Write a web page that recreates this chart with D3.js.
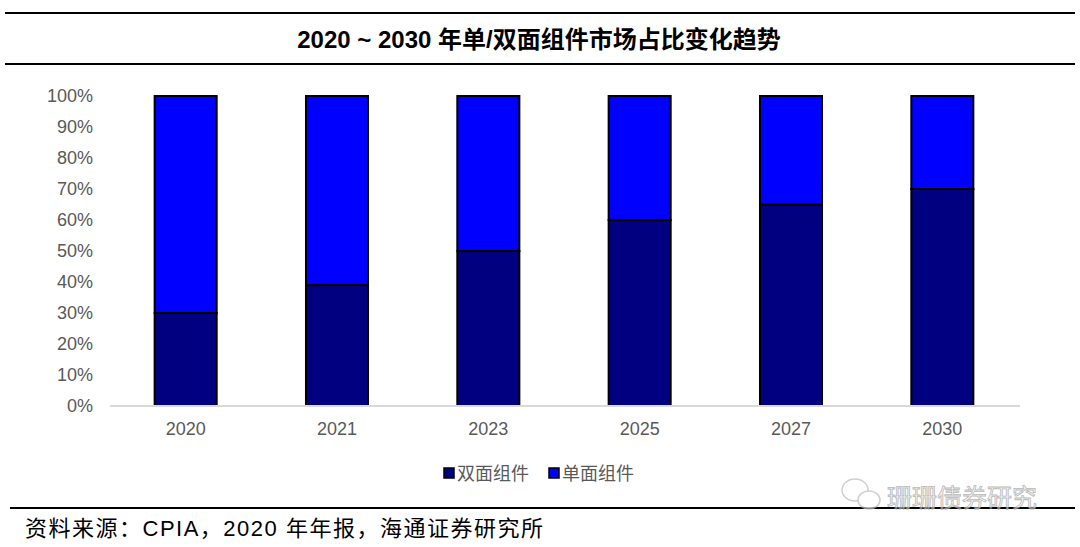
<!DOCTYPE html>
<html>
<head>
<meta charset="utf-8">
<script src="https://cdn.jsdelivr.net/npm/d3@7"></script>
<style>
  body { margin: 0; background: #fff; }
  svg { display: block; }
</style>
</head>
<body>
<svg></svg>
<script>
let width = 1080;
let height = 547;

// data
let years = ['2020', '2021', '2023', '2025', '2027', '2030'];
let bifacial = [30, 39, 50, 60, 65, 70];   // 双面组件
let monofacial = [70, 61, 50, 40, 35, 30]; // 单面组件
let seriesNames = ['双面组件', '单面组件'];
let seriesColors = ['#000080', '#0000FF'];
let yTicks = [0, 10, 20, 30, 40, 50, 60, 70, 80, 90, 100];

let svg = d3.select('svg')
    .attr('width', width)
    .attr('height', height);

// frame lines
svg.append('line').attr('x1', 5).attr('x2', 1075).attr('y1', 13).attr('y2', 13)
    .attr('stroke', '#000').attr('stroke-width', 2);
svg.append('line').attr('x1', 5).attr('x2', 1075).attr('y1', 64).attr('y2', 64)
    .attr('stroke', '#000').attr('stroke-width', 2);
svg.append('line').attr('x1', 10).attr('x2', 1075).attr('y1', 508).attr('y2', 508)
    .attr('stroke', '#000').attr('stroke-width', 2);

// title
svg.append('text')
    .attr('x', 539).attr('y', 48)
    .attr('text-anchor', 'middle')
    .style('font-family', 'Liberation Sans, Noto Sans CJK SC, sans-serif')
    .style('font-weight', 'bold')
    .style('font-size', '24px')
    .text('2020 ~ 2030 年单/双面组件市场占比变化趋势');

let x = d3.scaleBand()
    .domain(years)
    .range([110, 1018])
    .paddingInner(0.59)
    .paddingOuter(0.295);

let y = d3.scaleLinear()
    .domain([0, 100])
    .range([406, 96]);

// stacked table
let table = years.map((yr, i) => ({ year: yr, b: bifacial[i], m: monofacial[i] }));
let stack = d3.stack().keys(['b', 'm'])(table);

let chart = svg.append('g');

chart.selectAll('g.layer')
    .data(stack)
    .enter()
    .append('g')
    .attr('fill', (d, i) => seriesColors[i])
    .selectAll('rect')
    .data(d => d)
    .enter()
    .append('rect')
    .attr('x', d => x(d.data.year))
    .attr('width', x.bandwidth())
    .attr('y', d => y(d[1]))
    .attr('height', d => y(d[0]) - y(d[1]))
    .attr('stroke', '#000')
    .attr('stroke-width', 2);

// y axis labels
let yAxis = svg.append('g')
    .attr('transform', 'translate(93,0)')
    .call(d3.axisLeft(y).tickValues(yTicks).tickFormat(d => d + '%').tickSize(0).tickPadding(0));
yAxis.select('.domain').remove();
yAxis.selectAll('text')
    .style('font-family', 'Liberation Sans, Arial, sans-serif')
    .style('font-size', '18px')
    .attr('fill', '#595959');

// x axis
let xAxis = svg.append('g')
    .attr('transform', 'translate(0,406)')
    .call(d3.axisBottom(x).tickSize(0).tickPadding(16));
xAxis.select('.domain').attr('stroke', '#d9d9d9').attr('stroke-width', 2)
    .attr('d', 'M110,0H1020');
xAxis.selectAll('text')
    .style('font-family', 'Liberation Sans, Arial, sans-serif')
    .style('font-size', '18px')
    .attr('fill', '#595959');

// legend
let legendX = [444, 549];
let legend = svg.selectAll('g.legend')
    .data(seriesNames)
    .enter()
    .append('g')
    .attr('transform', (d, i) => `translate(${legendX[i]},473)`);
legend.append('rect')
    .attr('x', 0).attr('y', -5)
    .attr('width', 10).attr('height', 10)
    .attr('fill', (d, i) => seriesColors[i])
    .attr('stroke', '#000').attr('stroke-width', 1.5);
legend.append('text')
    .attr('x', 13).attr('y', 7)
    .style('font-family', 'Noto Sans CJK SC, sans-serif')
    .style('font-size', '18px')
    .attr('fill', '#595959')
    .text(d => d);

// watermark
let wm = svg.append('g').attr('opacity', 0.7);
wm.append('ellipse').attr('cx', 855).attr('cy', 490).attr('rx', 13).attr('ry', 11)
    .attr('fill', '#fff').attr('stroke', '#bbb').attr('stroke-width', 1.5);
wm.append('ellipse').attr('cx', 869).attr('cy', 500).attr('rx', 11).attr('ry', 9)
    .attr('fill', '#fff').attr('stroke', '#bbb').attr('stroke-width', 1.5);
wm.append('text')
    .attr('x', 887).attr('y', 507)
    .style('font-family', 'Noto Sans CJK SC, sans-serif')
    .style('font-size', '25px')
    .attr('fill', '#f4f4f4')
    .attr('stroke', '#999')
    .attr('stroke-width', 0.8)
    .text('珊珊债券研究');

// source
svg.append('text')
    .attr('x', 25).attr('y', 536)
    .style('font-family', 'Liberation Sans, Noto Sans CJK SC, sans-serif')
    .style('font-size', '22px')
    .style('letter-spacing', '1.5px')
    .attr('fill', '#000')
    .text('资料来源：CPIA，2020 年年报，海通证券研究所');
</script>
</body>
</html>
